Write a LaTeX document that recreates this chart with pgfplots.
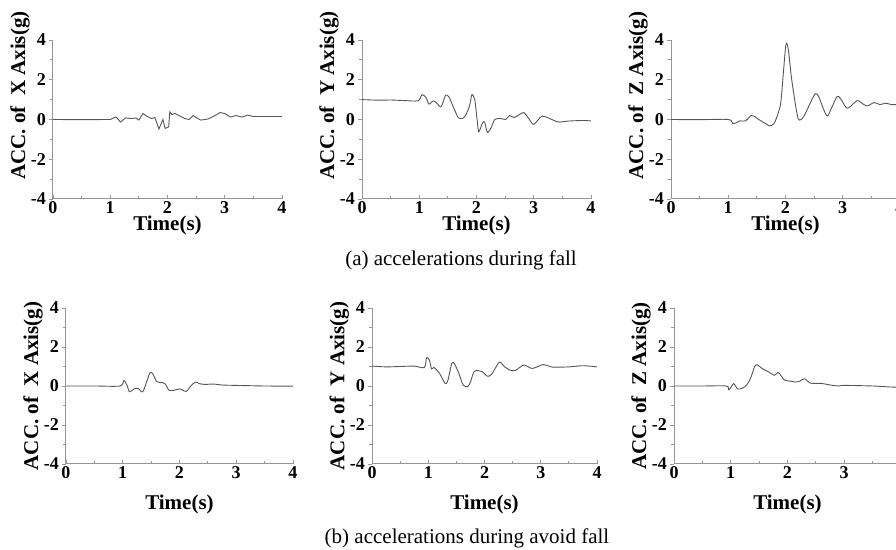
\documentclass[border=0pt]{standalone}
\usepackage{fontspec}
\setmainfont{Liberation Serif}
\usepackage{pgfplots}
\pgfplotsset{compat=1.18}

\definecolor{curve}{RGB}{85,85,85}
\definecolor{axgray}{RGB}{150,150,150}

\pgfplotsset{
  sig/.style={curve, line width=0.45pt, mark=none},
  acc/.style={
    scale only axis,
    anchor=south west,
    axis lines=left,
    axis line style={-, axgray, line width=0.5pt},
    xmin=0, xmax=4, ymin=-4, ymax=4,
    xtick={0,1,2,3,4}, ytick={-4,-2,0,2,4},
    xticklabels={0,1,2,3,4}, yticklabels={-4,-2,0,2,4},
    minor x tick num=1, minor y tick num=1,
    xtick align=inside, ytick align=outside,
    major tick length=2.2pt, minor tick length=1.3pt,
    tick style={axgray, line width=0.4pt},
    ticklabel style={font=\bfseries\fontsize{9}{10}\selectfont, inner sep=1.2pt},
    label style={font=\bfseries\fontsize{10.5}{12}\selectfont},
  },
  rowa/.style={acc, width=114.5pt, height=79.5pt,
    xlabel style={at={(axis description cs:0.5,-0.165)}, anchor=center},
    ylabel style={at={(axis description cs:-0.144,0.65)}, anchor=center, rotate=0}},
  rowb/.style={acc, width=113pt, height=78pt,
    xlabel style={at={(axis description cs:0.5,-0.262)}, anchor=center},
    ylabel style={at={(axis description cs:-0.145,0.5)}, anchor=center, rotate=0}},
}

\begin{document}
\begin{tikzpicture}
\path[use as bounding box] (0,0) rectangle (448pt,275pt);

% (a) fall, X
\begin{axis}[rowa, at={(26.5pt,175.5pt)},
  xlabel={Time(s)}, ylabel={ACC. of\enspace X Axis(g)}]
\addplot[sig] coordinates {
(0,0) (0.5,-0.01) (1.0,0) (1.1,0.13) (1.18,-0.13) (1.27,0.08) (1.35,0.05)
(1.45,0.07) (1.5,-0.03) (1.57,0.3) (1.65,0.15) (1.72,0.05) (1.78,0.1)
(1.85,-0.48) (1.92,0) (1.96,-0.45) (2.02,-0.37) (2.04,0.38) (2.08,0.25)
(2.13,0.3) (2.2,0.2) (2.3,0.05) (2.38,0) (2.45,0.2) (2.5,0.1) (2.58,-0.03)
(2.7,0.02) (2.8,0.15) (2.92,0.35) (3.0,0.3) (3.1,0.12) (3.2,0.2) (3.3,0.12)
(3.4,0.22) (3.5,0.15) (3.6,0.15) (4.0,0.15)};
\end{axis}

% (a) fall, Y
\begin{axis}[rowa, at={(181pt,175.5pt)},
  xlabel={Time(s)}, ylabel={ACC. of\enspace Y Axis(g)}]
\addplot[sig, smooth, tension=0.4] coordinates {
(0,1.0) (0.3,0.97) (0.5,0.98) (0.75,0.95) (0.98,0.94) (1.05,1.25) (1.12,1.1)
(1.17,0.77) (1.24,0.93) (1.3,0.85) (1.38,0.63) (1.46,1.22) (1.52,1.13)
(1.6,0.6) (1.68,0.1) (1.75,0.05) (1.81,0.2) (1.88,0.7) (1.92,1.25)
(1.97,1.0) (2.01,0) (2.04,-0.62) (2.1,-0.2) (2.14,-0.12) (2.19,-0.65)
(2.25,-0.45) (2.32,0) (2.42,0.05) (2.51,0) (2.58,0.2) (2.66,0.1)
(2.82,0.35) (2.9,0.1) (3.0,-0.25) (3.15,0.17) (3.42,-0.12) (3.6,-0.08)
(3.84,-0.05) (4.0,-0.07)};
\end{axis}

% (a) fall, Z
\begin{axis}[rowa, at={(335.5pt,175.5pt)},
  xlabel={Time(s)}, ylabel={ACC. of\enspace Z Axis(g)}]
\addplot[sig, smooth, tension=0.5] coordinates {
(0,0) (0.5,-0.01) (1.0,0) (1.08,-0.2) (1.15,-0.15) (1.2,-0.07) (1.3,-0.07)
(1.4,0.2) (1.45,0.17) (1.55,-0.03) (1.65,-0.2) (1.72,-0.32) (1.8,-0.2)
(1.87,0.3) (1.92,0.9) (1.97,2.6) (2.01,3.8) (2.05,3.5) (2.1,2.2)
(2.16,1.0) (2.22,0.05) (2.27,0) (2.32,0.15) (2.42,0.75) (2.52,1.3)
(2.58,1.15) (2.66,0.55) (2.73,0.18) (2.8,0.55) (2.9,1.15) (2.96,1.05)
(3.06,0.6) (3.12,0.62) (3.25,0.95) (3.32,0.85) (3.42,0.68) (3.55,0.85)
(3.65,0.75) (3.75,0.82) (3.85,0.75) (4.0,0.75)};
\end{axis}

% (b) avoid fall, X
\begin{axis}[rowb, at={(33pt,43pt)}, width=113.5pt,
  xlabel={Time(s)}, ylabel={ACC. of\enspace X Axis(g)}]
\addplot[sig, smooth, tension=0.5] coordinates {
(0,0) (0.5,0) (0.95,0) (1.02,0.28) (1.08,0) (1.12,-0.3) (1.2,-0.15)
(1.27,-0.13) (1.35,-0.3) (1.42,0.2) (1.48,0.68) (1.53,0.62) (1.6,0.22)
(1.7,0.18) (1.75,0.1) (1.82,-0.23) (1.9,-0.22) (2.0,-0.15) (2.05,-0.2)
(2.12,-0.28) (2.2,0) (2.28,0.2) (2.35,0.12) (2.45,0.08) (2.6,0.1)
(2.75,0.05) (3.0,0.03) (3.5,0) (4.0,-0.01)};
\end{axis}

% (b) avoid fall, Y
\begin{axis}[rowb, at={(186pt,43pt)}, width=112.5pt,
  xlabel={Time(s)}, ylabel={ACC. of\enspace Y Axis(g)}]
\addplot[sig, smooth, tension=0.5] coordinates {
(0,1.02) (0.25,0.98) (0.5,1.0) (0.75,1.02) (0.93,0.95) (0.97,1.45)
(1.02,1.33) (1.06,0.87) (1.1,0.95) (1.2,0.65) (1.3,0.13) (1.35,0.3)
(1.42,1.17) (1.47,1.12) (1.55,0.6) (1.62,0.05) (1.7,-0.03) (1.75,0.2)
(1.82,0.75) (1.95,0.75) (2.05,0.5) (2.12,0.58) (2.2,0.95) (2.27,1.23)
(2.35,1.0) (2.45,0.82) (2.55,0.8) (2.7,1.07) (2.85,0.9) (3.05,1.1)
(3.2,0.97) (3.5,0.98) (3.75,1.04) (4.0,0.98)};
\end{axis}

% (b) avoid fall, Z
\begin{axis}[rowb, at={(337pt,43pt)}, width=113.5pt,
  xlabel={Time(s)}, ylabel={ACC. of\enspace Z Axis(g)}]
\addplot[sig, smooth, tension=0.5] coordinates {
(0,0) (0.5,0) (0.92,0) (0.97,-0.2) (1.05,0.12) (1.12,-0.15) (1.2,-0.12)
(1.28,0.05) (1.35,0.4) (1.42,1.0) (1.47,1.08) (1.55,0.9) (1.65,0.75)
(1.77,0.55) (1.83,0.7) (1.88,0.55) (1.95,0.3) (2.05,0.25) (2.15,0.2)
(2.22,0.25) (2.3,0.37) (2.4,0.15) (2.6,0.13) (2.75,0.05) (2.9,0)
(3.0,0.03) (3.5,0) (3.8,-0.05) (4.0,-0.07)};
\end{axis}

\node[font=\fontsize{10.5}{12}\selectfont] at (230.5pt,145pt) {(a) accelerations during fall};
\node[font=\fontsize{10.5}{12}\selectfont] at (233.5pt,6pt) {(b) accelerations during avoid fall};
\end{tikzpicture}
\end{document}
